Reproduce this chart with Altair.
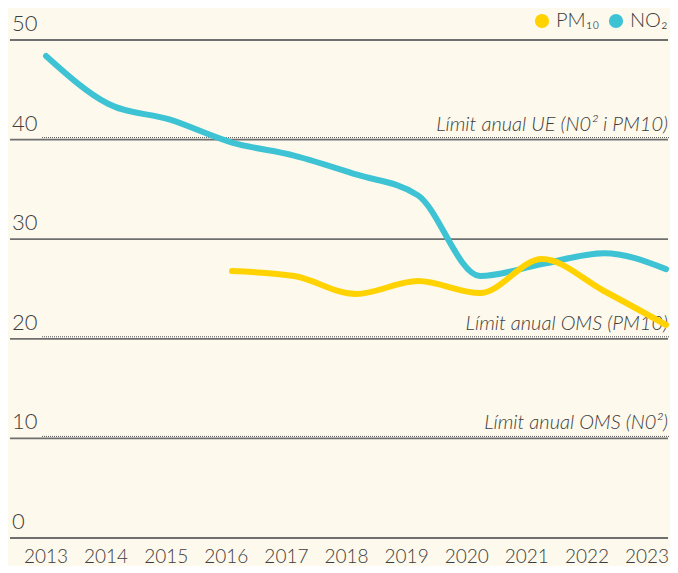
import altair as alt
import pandas as pd

# ---- data ----
years = [2013, 2014, 2015, 2016, 2017, 2018, 2019, 2020, 2021, 2022, 2023]
no2 = [48.4, 43.6, 42.0, 39.7, 38.4, 36.5, 34.4, 26.3, 27.5, 28.6, 27.0]
pm10_years = [2016, 2017, 2018, 2019, 2020, 2021, 2022, 2023]
pm10 = [26.8, 26.3, 24.5, 25.8, 24.6, 28.0, 24.8, 21.4]
grid_values = [0, 10, 20, 30, 40, 50]
limit_values = [40, 20, 10]
limit_labels = ["Límit anual UE (N0² i PM10)", "Límit anual OMS (PM10)", "Límit anual OMS (N0²)"]
series_names = ["PM₁₀", "NO₂"]
series_colors = ["#FFD200", "#3DC3D3"]

W, H = 658, 498
FONT = "Lato"
TXT = "#3d3d3d"

lines_df = pd.DataFrame(
    [{"year": y, "value": v, "series": "NO₂"} for y, v in zip(years, no2)]
    + [{"year": y, "value": v, "series": "PM₁₀"} for y, v in zip(pm10_years, pm10)]
)
grid_df = pd.DataFrame({"value": grid_values, "label": [str(v) for v in grid_values]})
limit_df = pd.DataFrame({"value": limit_values, "label": limit_labels})
year_df = pd.DataFrame({"year": years, "label": [str(y) for y in years]})

yscale = alt.Scale(domain=[0, 50], nice=False, zero=False)
xdata = alt.Scale(domain=[2012.419, 2023.032], nice=False, zero=False)
xlab = alt.Scale(domain=[2012.401, 2023.349], nice=False, zero=False)
color = alt.Color(
    "series:N",
    scale=alt.Scale(domain=series_names, range=series_colors),
    legend=alt.Legend(
        title=None,
        orient="none",
        legendX=522,
        legendY=-29,
        direction="horizontal",
        symbolType="circle",
        symbolSize=200,
        symbolStrokeWidth=0,
        symbolOpacity=1,
        labelFont=FONT,
        labelFontSize=20,
        labelFontWeight=300,
        labelColor=TXT,
        labelOffset=4,
        columnPadding=6,
    ),
)

grid = alt.Chart(grid_df).mark_rule(color="#6f6f6f", strokeWidth=1.8).encode(
    y=alt.Y("value:Q", scale=yscale, axis=None),
    x=alt.value(0),
    x2=alt.value(W),
)
ylabels = alt.Chart(grid_df).mark_text(
    align="left", baseline="alphabetic", dy=-9, font=FONT, fontSize=22,
    fontWeight=300, color=TXT
).encode(y=alt.Y("value:Q", scale=yscale, axis=None), x=alt.value(2), text="label:N")

dotted = alt.Chart(limit_df).mark_rule(
    color="#555555", strokeWidth=1, strokeDash=[1, 1], yOffset=-2
).encode(y=alt.Y("value:Q", scale=yscale, axis=None), x=alt.value(32), x2=alt.value(660))
limit_text = alt.Chart(limit_df).mark_text(
    align="right", baseline="alphabetic", dy=-9, font=FONT, fontSize=20,
    fontStyle="italic", fontWeight=300, color=TXT
).encode(y=alt.Y("value:Q", scale=yscale, axis=None), x=alt.value(658), text="label:N")

legend_pts = alt.Chart(lines_df).mark_circle(opacity=0, size=1).encode(
    x=alt.X("year:Q", scale=xdata, axis=None),
    y=alt.Y("value:Q", scale=yscale, axis=None),
    color=color,
)
no2_line = alt.Chart(lines_df).transform_filter(alt.datum.series == "NO₂").mark_line(
    strokeWidth=6, interpolate="monotone", strokeCap="round", color=series_colors[1]
).encode(
    x=alt.X("year:Q", scale=xdata, axis=None),
    y=alt.Y("value:Q", scale=yscale, axis=None),
)
pm_line = alt.Chart(lines_df).transform_filter(alt.datum.series == "PM₁₀").mark_line(
    strokeWidth=6, interpolate="monotone", strokeCap="round", color=series_colors[0]
).encode(
    x=alt.X("year:Q", scale=xdata, axis=None),
    y=alt.Y("value:Q", scale=yscale, axis=None),
)

data_layer = alt.layer(grid, dotted, limit_text, ylabels, legend_pts, no2_line, pm_line)

year_text = alt.Chart(year_df).mark_text(
    align="center", baseline="middle", font=FONT, fontSize=19, fontWeight=300, color=TXT
).encode(x=alt.X("year:Q", scale=xlab, axis=None), y=alt.value(H + 19), text="label:N")

chart = alt.layer(data_layer, year_text).resolve_scale(x="independent").properties(
    width=W,
    height=H,
    autosize=alt.AutoSizeParams(type="none"),
    padding={"left": 2, "top": 32, "right": 2, "bottom": 28},
    background="#FDF9EC",
).configure_view(stroke=None)

chart.save("out.html", embed_options={"renderer": "svg", "actions": False})
